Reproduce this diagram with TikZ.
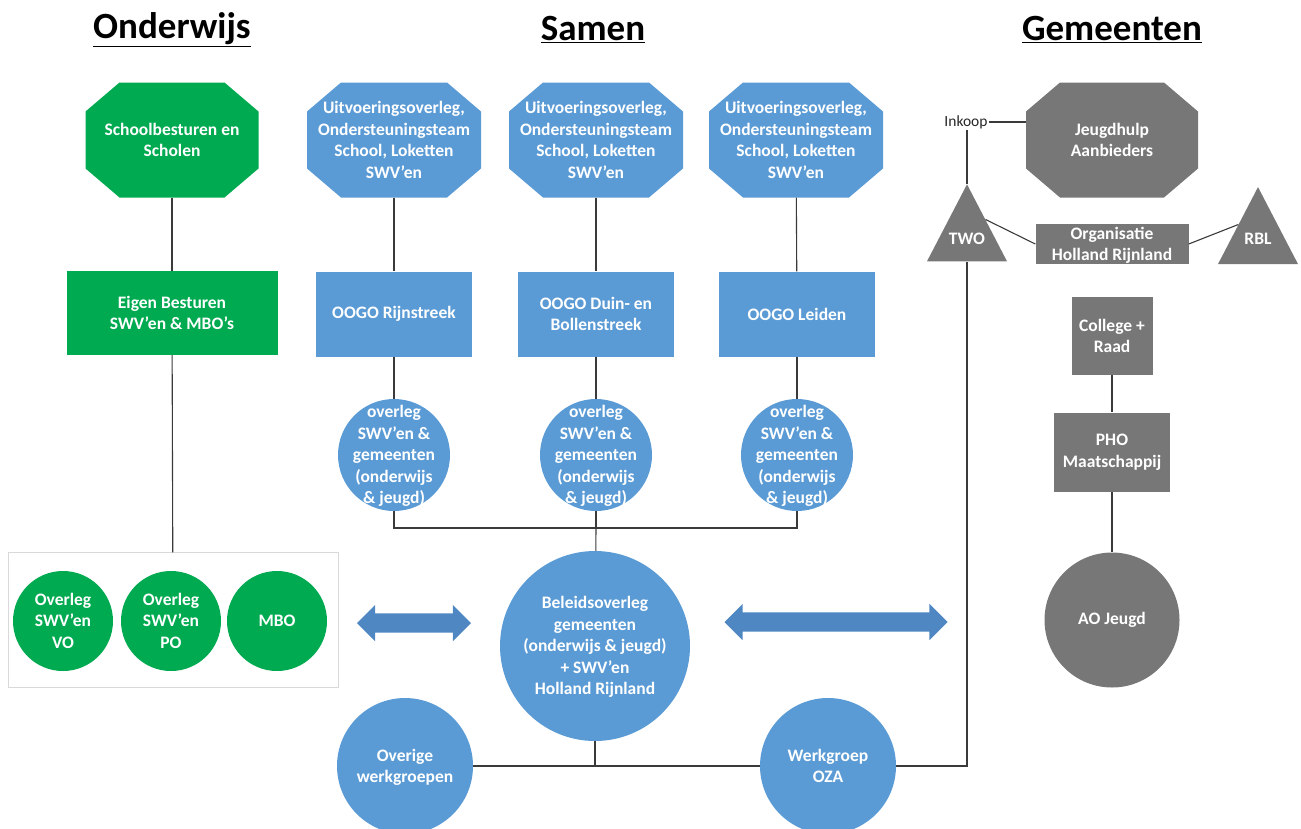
\documentclass[tikz,border=0pt]{standalone}
\usepackage{fontspec}
\setmainfont{Carlito}
\usetikzlibrary{shapes.geometric,shapes.arrows,calc}

\definecolor{groen}{HTML}{00AA50}
\definecolor{blauw}{HTML}{5B9BD5}
\definecolor{grijs}{HTML}{777777}
\definecolor{pijlblauw}{HTML}{4F87C3}
\definecolor{lijnkleur}{HTML}{3A3A3A}

% text that may run over the border of its shape
\newcommand\vrij[1]{\smash{\raisebox{-6pt}{\makebox[0pt]{\begin{tabular}{@{}c@{}}#1\end{tabular}}}}}

\tikzset{
  basis/.style={text=white, font=\bfseries\fontsize{17.5}{21.5}\selectfont, align=center, inner sep=0pt},
  octa/.style={basis, rectangle, minimum width=174pt, minimum height=115pt,
    path picture={\fill [#1]
      ([xshift=34pt]path picture bounding box.north west) -- ([xshift=-34pt]path picture bounding box.north east)
      -- ([yshift=-29pt]path picture bounding box.north east) -- ([yshift=29pt]path picture bounding box.south east)
      -- ([xshift=-34pt]path picture bounding box.south east) -- ([xshift=34pt]path picture bounding box.south west)
      -- ([yshift=29pt]path picture bounding box.south west) -- ([yshift=-29pt]path picture bounding box.north west)
      -- cycle;}},
  blok/.style={basis, rectangle, fill=#1},
  rond/.style={basis, circle, fill=#1},
  drie/.style={basis, isosceles triangle, shape border rotate=90, isosceles triangle stretches,
    minimum width=80pt, minimum height=77pt, fill=grijs},
  pijl/.style={double arrow, fill=pijlblauw, double arrow head extend=8.5pt, inner sep=9.5pt},
  lijn/.style={draw=lijnkleur, line width=1.1pt},
  titel/.style={font=\bfseries\fontsize{37}{40}\selectfont}
}

\begin{document}
\begin{tikzpicture}[x=1pt, y=-1pt]
\clip (0,0) rectangle (1301,828);

\node [titel] (titel-onderwijs) at (172,30) {\underline{Onderwijs}};
\node [titel] (titel-samen) at (593,30) {\underline{Samen}};
\node [titel] (titel-gemeenten) at (1112,30) {\underline{Gemeenten}};

% Onderwijs
\node [octa=groen, minimum width=173pt] (school) at (172,140) {\vrij{Schoolbesturen en\\Scholen}};
\node [blok=groen, minimum width=211pt, minimum height=84pt] (eigen) at (172,313)
  {Eigen Besturen\\SWV’en \& MBO’s};
\node [draw=black!15, fill=white, minimum width=330pt, minimum height=135pt] (groep) at (173,620) {};

\foreach \m/\x/\t in {vo/63/{Overleg\\SWV’en\\VO}, po/171/{Overleg\\SWV’en\\PO}, mbo/277/MBO}
  \node [rond=groen, minimum size=100pt] (\m) at (\x,621) {\vrij{\t}};

\draw [lijn] (school) -- (eigen);
\draw [lijn] (eigen) -- (groep);

% Samen
\foreach \n/\x in {1/394, 2/596, 3/796}
  \node [octa=blauw] (uitv-\n) at (\x,140)
    {\vrij{Uitvoeringsoverleg,\\Ondersteuningsteam\\School, Loketten\\SWV’en}};

\foreach \n/\x/\t in {1/394/{OOGO Rijnstreek}, 2/596/{OOGO Duin- en\\Bollenstreek}, 3/797/{OOGO Leiden}}
  \node [blok=blauw, minimum width=156pt, minimum height=85pt] (oogo-\n) at (\x,314) {\t};

\foreach \n/\x in {1/394, 2/596, 3/797}
  \node [rond=blauw, minimum size=112pt] (overleg-\n) at (\x,455)
    {\vrij{overleg\\SWV’en \&\\gemeenten\\(onderwijs\\\& jeugd)}};

\node [rond=blauw, minimum size=190pt] (beleid) at (595,646)
  {\vrij{Beleidsoverleg\\gemeenten\\(onderwijs \& jeugd)\\+ SWV’en\\Holland Rijnland}};
\node [rond=blauw, minimum size=136pt] (overige) at (405,766) {\vrij{Overige\\werkgroepen}};
\node [rond=blauw, minimum size=136pt] (oza) at (828,766) {\vrij{Werkgroep\\OZA}};

\node [pijl, minimum height=114pt] (pijl-links) at (414,623) {};
\node [pijl, minimum height=223pt] (pijl-rechts) at (836,622) {};

\coordinate (samen) at (596,528);

\foreach \n in {1,2,3} {
  \draw [lijn] (uitv-\n) -- (oogo-\n);
  \draw [lijn] (oogo-\n) -- (overleg-\n);
  \draw [lijn] (overleg-\n) |- (samen);
}
\draw [lijn] (samen) -- (beleid);
\draw [lijn] (beleid.south) -- (beleid.south |- overige.east);
\draw [lijn] (overige) -- (oza);

% Gemeenten
\node [font=\fontsize{15.5}{18}\selectfont, text=black!85, inner sep=1pt] (inkoop) at (966,122) {Inkoop};
\node [octa=grijs, minimum width=172pt] (jeugd) at (1112,140) {\vrij{Jeugdhulp\\Aanbieders}};
\node [drie] (two) at (967,248) {\smash{\raisebox{4pt}{TWO}}};
\node [drie] (rbl) at (1258,248) {\smash{\raisebox{4pt}{RBL}}};
\node [blok=grijs, minimum width=153pt, minimum height=40pt] (org) at (1112,244)
  {\vrij{Organisatie\\Holland Rijnland}};
\node [blok=grijs, minimum width=81pt, minimum height=78pt] (college) at (1112,336) {College +\\Raad};
\node [blok=grijs, minimum width=116pt, minimum height=79pt] (pho) at (1112,452) {PHO\\Maatschappij};
\node [rond=grijs, minimum size=135pt] (ao) at (1112,620) {AO Jeugd};

\draw [lijn] (inkoop.east) -- (inkoop.east -| jeugd.west);
\draw [lijn] (two.apex |- inkoop.south) -- (two.apex);
\draw [lijn] (two.57) -- (org.west);
\draw [lijn] (org.east) -- (rbl.130);
\draw [lijn] (college) -- (pho);
\draw [lijn] (pho) -- (ao);
\draw [lijn] (oza) -| (two.lower side);

\end{tikzpicture}
\end{document}
